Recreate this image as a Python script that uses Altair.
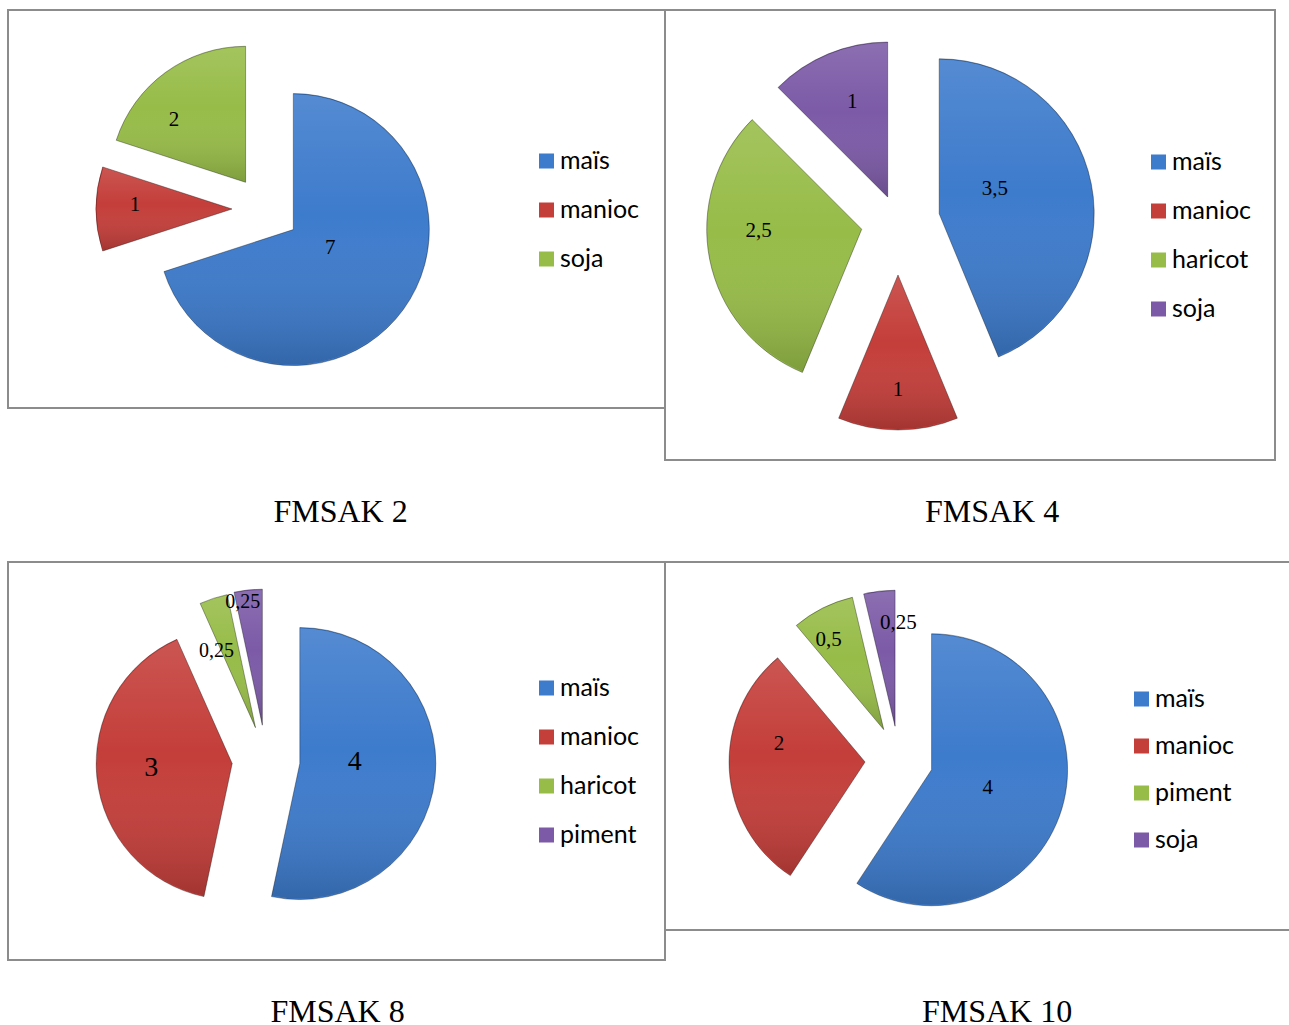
import altair as alt
import pandas as pd

# ---- data: crop area per farm (FMSAK 2, 4, 8, 10) ----
cult_2 = ["maïs", "manioc", "soja"]
val_2 = [7, 1, 2]
lab_2 = ["7", "1", "2"]

cult_4 = ["maïs", "manioc", "haricot", "soja"]
val_4 = [3.5, 1, 2.5, 1]
lab_4 = ["3,5", "1", "2,5", "1"]

cult_8 = ["maïs", "manioc", "haricot", "piment"]
val_8 = [4, 3, 0.25, 0.25]
lab_8 = ["4", "3", "0,25", "0,25"]

cult_10 = ["maïs", "manioc", "piment", "soja"]
val_10 = [4, 2, 0.5, 0.25]
lab_10 = ["4", "2", "0,5", "0,25"]

# ---- styling ----
PALETTE = ["#3d7bcc", "#c43e3a", "#97bc48", "#7c5aa7"]
SHADE = {
    "gradient": "linear", "x1": 0, "y1": 0, "x2": 0, "y2": 1,
    "stops": [
        {"offset": 0, "color": "rgba(255,255,255,0.12)"},
        {"offset": 0.45, "color": "rgba(255,255,255,0.0)"},
        {"offset": 1, "color": "rgba(0,0,0,0.17)"},
    ],
}
SERIF = "Liberation Serif"
SANS = "Lato"

STYLE_2 = dict(center=(257, 199), radius=136, explode=[35, 33, 33],
               ldist=[41, 97, 95], lshift=[-10, 2.5, -13], lsize=[21, 21, 21],
               size=(657, 398), legend=(526, 138.5, 23), title=(89, 4))
STYLE_4 = dict(center=(233, 212), radius=155, explode=[42, 53, 37, 27],
               ldist=[61, 115, 103, 101], lshift=[-13, 0, 10, 2], lsize=[21, 21, 21, 21],
               size=(610, 450), legend=(481, 139.5, 23), title=(37, 22))
STYLE_8 = dict(center=(258, 198), radius=136, explode=[34, 34, 34, 35],
               ldist=[55, 81, 86, 125], lshift=[-8, 2.5, -9, -3], lsize=[28, 28, 20, 20],
               size=(657, 398), legend=(526, 113.5, 23), title=(37, 1))
STYLE_10 = dict(center=(234, 198), radius=136, explode=[34, 34, 34, 34],
                ldist=[59, 88, 105, 103], lshift=[1.5, 15, -5, 8.5], lsize=[21, 21, 21, 21],
                size=(628, 368), legend=(464, 124.5, 21), title=(67, 18))


def pie_panel(cats, vals, labs, title, st):
    n = len(cats)
    df = pd.DataFrame({
        "culture": cats, "valeur": vals, "etiquette": labs, "rang": list(range(n)),
        "ecart": st["explode"], "ld": st["ldist"], "la": st["lshift"], "fs": st["lsize"],
    })
    cx, cy = st["center"]
    r = st["radius"]

    base = (
        alt.Chart(df)
        .transform_window(cumul="sum(valeur)", sort=[alt.SortField("rang")], frame=[None, 0])
        .transform_joinaggregate(total="sum(valeur)")
        .transform_calculate(t0="2*PI*(datum.cumul-datum.valeur)/datum.total")
        .transform_calculate(t1="2*PI*datum.cumul/datum.total")
        .transform_calculate(mid="(datum.t0+datum.t1)/2")
        # exploded slice: shift each wedge outward along its bisector
        .transform_calculate(px=f"{cx}+datum.ecart*sin(datum.mid)")
        .transform_calculate(py=f"{cy}-datum.ecart*cos(datum.mid)")
        .transform_calculate(lang="datum.mid+datum.la*PI/180")
        .transform_calculate(lx="datum.px+datum.ld*sin(datum.lang)")
        .transform_calculate(ly="datum.py-datum.ld*cos(datum.lang)")
    )

    pos = dict(
        x=alt.X("px:Q", scale=None, axis=None),
        y=alt.Y("py:Q", scale=None, axis=None),
        theta=alt.Theta("t0:Q", scale=None, stack=None),
        theta2="t1:Q",
    )
    lx, ly, rowpad = st["legend"]
    slices = base.mark_arc(radius=r, stroke="rgba(0,0,0,0.35)", strokeWidth=1).encode(
        color=alt.Color(
            "culture:N",
            scale=alt.Scale(domain=cats, range=PALETTE[:n]),
            legend=alt.Legend(
                orient="none", legendX=lx, legendY=ly, title=None,
                symbolType="square", symbolSize=225, symbolStrokeWidth=0,
                labelFont=SANS, labelFontSize=25, labelColor="black",
                labelOffset=1, rowPadding=rowpad, padding=0,
            ),
        ),
        **pos,
    )
    shade = base.mark_arc(radius=r - 1, fill=SHADE, strokeWidth=0).encode(**pos)
    text = base.mark_text(font=SERIF, color="black", align="center", baseline="middle").encode(
        x=alt.X("lx:Q", scale=None, axis=None),
        y=alt.Y("ly:Q", scale=None, axis=None),
        text="etiquette:N",
        size=alt.Size("fs:Q", scale=None, legend=None),
    )
    w, h = st["size"]
    off, dx = st["title"]
    return alt.layer(slices, shade, text).properties(
        width=w, height=h,
        title=alt.TitleParams(
            text=title, orient="bottom", anchor="middle", frame="group",
            offset=off, dx=dx, font=SERIF, fontSize=32, fontWeight="normal",
            color="black", baseline="top",
        ),
    )


chart = (
    alt.concat(
        pie_panel(cult_2, val_2, lab_2, "FMSAK 2", STYLE_2),
        pie_panel(cult_4, val_4, lab_4, "FMSAK 4", STYLE_4),
        pie_panel(cult_8, val_8, lab_8, "FMSAK 8", STYLE_8),
        pie_panel(cult_10, val_10, lab_10, "FMSAK 10", STYLE_10),
        columns=2,
        spacing={"row": 102, "column": 0},
        bounds="flush",
    )
    .resolve_scale(color="independent")
    # the last panel's frame runs past the right edge of the page
    .properties(padding={"left": 7, "top": 9, "right": -5, "bottom": -5}, background="white")
    .configure_view(stroke="#8c8c8c", strokeWidth=2)
)

chart.save("out.html", embed_options={"renderer": "svg", "actions": False})
